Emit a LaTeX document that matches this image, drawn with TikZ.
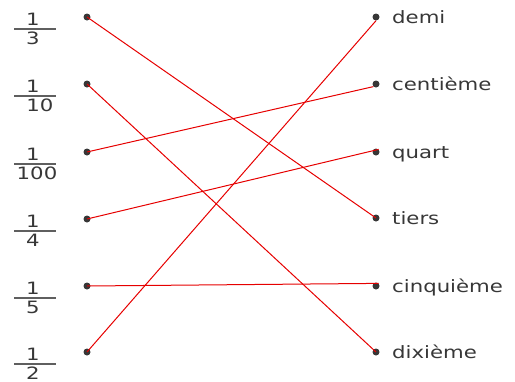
\documentclass[tikz,border=0pt]{standalone}
\usepackage{fontspec}
\newfontfamily\lab[FakeStretch=1.25]{DejaVu Sans}
\definecolor{ink}{RGB}{55,55,55}
\definecolor{lred}{RGB}{230,0,0}
\begin{document}
\begin{tikzpicture}[x=1pt,y=-1pt,
  txt/.style={font=\lab\fontsize{17}{19}\selectfont, text=ink, inner sep=0pt},
  word/.style={txt, anchor=base west},
  num/.style={txt, anchor=center},
  dotnode/.style={circle, fill=ink, inner sep=0pt, minimum size=7pt},
  bar/.style={draw=ink!80, line width=1.2pt},
  link/.style={draw=lred, line width=1pt}]
\useasboundingbox (0,0) rectangle (515,381);
% left dots
\node[dotnode] (l1) at (87,17) {};
\node[dotnode] (l2) at (87,84) {};
\node[dotnode] (l3) at (87,152) {};
\node[dotnode] (l4) at (87,219) {};
\node[dotnode] (l5) at (87,286) {};
\node[dotnode] (l6) at (87,352) {};
% right dots
\node[dotnode] (r1) at (376,17) {};
\node[dotnode] (r2) at (376,84) {};
\node[dotnode] (r3) at (376,152) {};
\node[dotnode] (r4) at (376,218) {};
\node[dotnode] (r5) at (376,286) {};
\node[dotnode] (r6) at (376,352) {};
% words
\node[word] (w1) at (392,23) {demi};
\node[word] (w2) at (392,90) {centième};
\node[word] (w3) at (392,158) {quart};
\node[word] (w4) at (392,224) {tiers};
\node[word] (w5) at (392,292) {cinquième};
\node[word] (w6) at (392,358) {dixième};
% fractions
\foreach \y/\d/\dx [count=\i] in {17/3/33, 84/10/40, 152/100/37, 219/4/33, 286/5/33, 352/2/33}{
  \node[num] (n\i) at (33,\y+2) {1};
  \draw[bar] (14,\y+12) -- (56,\y+12);
  \node[num] (d\i) at (\dx,\y+21) {\d};
}
% connections
\draw[link] (l1.center) -- (r4.center);
\draw[link] (l2.center) -- (r6.center);
\draw[link] (l3.center) -- (r2.south west);
\draw[link] (l4.center) -- (r3.north east);
\draw[link] (l5.center) -- (r5.north east);
\draw[link] (l6.center) -- (r1.south);
\end{tikzpicture}
\end{document}
